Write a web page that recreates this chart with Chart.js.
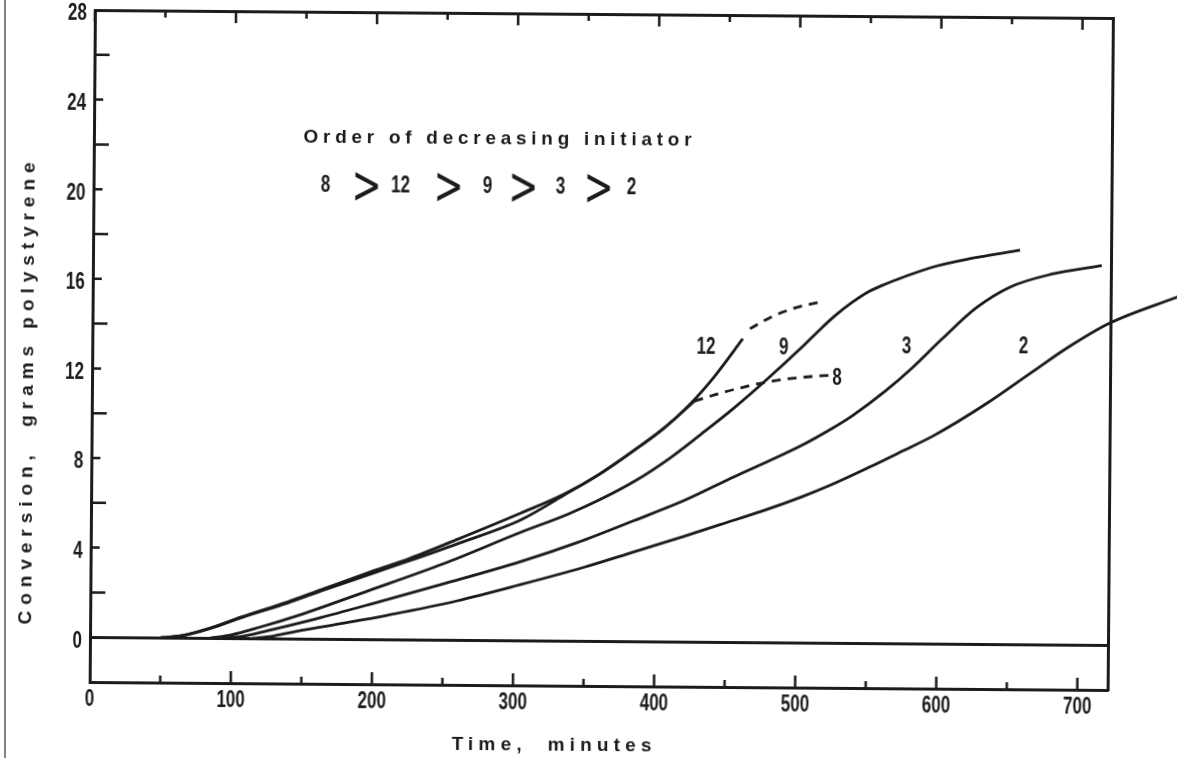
<!DOCTYPE html>
<html>
<head>
<meta charset="utf-8">
<script src="https://cdn.jsdelivr.net/npm/chart.js@4.4.1/dist/chart.umd.min.js"></script>
<style>
  html, body { margin: 0; padding: 0; background: #fff; overflow: hidden; }
  #wrap { position: relative; width: 1177px; height: 758px; }
  #edge { position: absolute; left: 4px; top: 0; width: 2px; height: 758px; background: #7f868f; }
  #c { position: absolute; left: 0; top: 0; transform: rotate(0.45deg); transform-origin: 90px 637px; }
</style>
</head>
<body>
<div id="wrap"><div id="edge"></div><canvas id="c" width="1177" height="758"></canvas></div>
<script>
// Conversion (grams polystyrene) against time (minutes) for each run
const run12Time  = [50, 65, 85, 107, 140, 166, 200, 225, 260, 305, 335, 360, 385, 405, 423, 441, 461];
const run12Grams = [0, 0.1, 0.45, 0.95, 1.65, 2.26, 3.05, 3.6, 4.5, 5.7, 6.55, 7.45, 8.55, 9.5, 10.55, 11.85, 13.55];
const run12ExtTime  = [466, 480, 498, 518];
const run12ExtGrams = [14.0, 14.5, 14.95, 15.25];

const run8Time  = [50, 65, 85, 107, 140, 166, 200, 225, 260, 305, 335, 360, 385, 405, 427];
const run8Grams = [0, 0.1, 0.43, 0.92, 1.6, 2.2, 2.95, 3.5, 4.3, 5.4, 6.5, 7.45, 8.55, 9.5, 10.75];
const run8ExtTime  = [427, 442, 456, 480, 503, 522];
const run8ExtGrams = [10.75, 11.05, 11.3, 11.65, 11.85, 11.95];

const run9Time  = [85, 100, 120, 150, 197, 250, 305, 338, 360, 385, 410, 432, 455, 477, 503, 515, 526, 538, 550, 562, 574, 597, 621, 657];
const run9Grams = [0, 0.15, 0.5, 1.1, 2.17, 3.4, 4.84, 5.66, 6.3, 7.15, 8.2, 9.28, 10.45, 11.67, 13.2, 13.95, 14.6, 15.2, 15.7, 16.05, 16.35, 16.85, 17.2, 17.6];

const run3Time  = [95, 110, 130, 160, 199, 250, 305, 345, 385, 420, 456, 480, 503, 524, 539, 562, 581, 602, 626, 650, 680, 715];
const run3Grams = [0, 0.12, 0.42, 0.9, 1.58, 2.5, 3.53, 4.4, 5.4, 6.3, 7.4, 8.1, 8.8, 9.55, 10.15, 11.25, 12.3, 13.6, 15.0, 15.95, 16.55, 16.95];

const run2Time  = [115, 130, 150, 180, 211, 260, 305, 350, 385, 420, 446, 475, 503, 524, 551, 575, 597, 633, 668, 692, 720, 770];
const run2Grams = [0, 0.12, 0.38, 0.72, 1.09, 1.75, 2.5, 3.3, 4.0, 4.7, 5.25, 5.85, 6.5, 7.05, 7.85, 8.6, 9.3, 10.7, 12.25, 13.3, 14.35, 15.6];

// Axis ranges and tick labels
const timeMin = 0, timeMax = 721.5;
const gramsMin = -2, gramsMax = 28;
const timeTicks = [0, 100, 200, 300, 400, 500, 600, 700];
const gramsTicks = [0, 4, 8, 12, 16, 20, 24, 28];

// Curve labels placed beside each run
const curveLabels = ['12', '9', '8', '3', '2'];
const curveLabelTime = [435, 490, 528, 577, 660];
const curveLabelGrams = [13.17, 13.16, 11.83, 13.23, 13.28];

// Note on initiator order
const orderHeading = 'Order of decreasing initiator';
const orderRuns = ['8', '12', '9', '3', '2'];
const orderRunTime = [164.4, 217.6, 279.2, 331, 381.3];
const orderSignTime = [193.5, 251.6, 304.7, 357.9];

const INK = '#1b1b1b';
const FONT = "'Liberation Sans', Arimo, 'DejaVu Sans', sans-serif";
const DIGIT_SQUEEZE = 0.74;

// Squeeze/stretch applied to lettering (narrow numbers, tall chevrons)
const squeeze = { x: 1, y: 1 };
function installSqueeze(ctx) {
  if (ctx._squeezed) return;
  const fill = ctx.fillText.bind(ctx);
  ctx.fillText = function (text, x, y, maxWidth) {
    if (squeeze.x === 1 && squeeze.y === 1) return fill(text, x, y, maxWidth);
    this.save();
    this.translate(x, y);
    this.scale(squeeze.x, squeeze.y);
    fill(text, 0, 0, maxWidth);
    this.restore();
  };
  ctx._squeezed = true;
}

const pairs = (t, g) => t.map((v, i) => ({ x: v, y: g[i] }));
const curve = (label, t, g, dashed, clip) => ({
  label,
  data: pairs(t, g),
  borderColor: INK,
  borderWidth: 2.8,
  borderDash: dashed ? [9, 7] : [],
  pointRadius: 0,
  fill: false,
  cubicInterpolationMode: 'monotone',
  clip: clip === undefined ? 0 : clip
});

// Axis titles are letter-spaced to a set length; tick numbers are squeezed
const titleFit = {
  x: { width: 200, shift: [-44, 0] },
  y: { width: 462, shift: [0, 45] }
};
const lettering = {
  id: 'lettering',
  beforeDraw(chart) {
    installSqueeze(chart.ctx);
    Object.keys(titleFit).forEach(id => {
      const scale = chart.scales[id];
      if (!scale || scale._lettered) return;
      const drawTitle = scale.drawTitle.bind(scale);
      scale.drawTitle = function () {
        const ctx = this.ctx;
        const t = this.options.title;
        const fit = titleFit[id];
        ctx.save();
        ctx.font = Chart.helpers.toFont(t.font).string;
        ctx.letterSpacing = '0px';
        const w = ctx.measureText(t.text).width;
        ctx.letterSpacing = Math.max(0, (fit.width - w) / (t.text.length - 1)) + 'px';
        ctx.translate(fit.shift[0], fit.shift[1]);
        drawTitle();
        ctx.restore();
      };
      const drawLabels = scale.drawLabels.bind(scale);
      scale.drawLabels = function (area) {
        squeeze.x = DIGIT_SQUEEZE;
        drawLabels(area);
        squeeze.x = 1;
      };
      scale._lettered = true;
    });
  }
};

// Inward tick marks on the frame
const frameTicks = {
  id: 'frameTicks',
  afterDatasetsDraw(chart) {
    const { ctx, chartArea: a, scales: { x, y } } = chart;
    ctx.save();
    ctx.strokeStyle = INK;
    ctx.lineWidth = 2.5;
    ctx.beginPath();
    for (let v = timeTicks[0]; v <= timeTicks[timeTicks.length - 1]; v += 50) {
      const px = x.getPixelForValue(v);
      const len = timeTicks.includes(v) ? 12 : 7;
      if (v > timeMin) {
        ctx.moveTo(px, a.bottom); ctx.lineTo(px, a.bottom - len);
      }
      ctx.moveTo(px, a.top); ctx.lineTo(px, a.top + len);
    }
    for (let v = 2; v < gramsMax; v += 2) {
      const py = y.getPixelForValue(v);
      const len = gramsTicks.includes(v) ? 9 : 15;
      ctx.moveTo(a.left, py); ctx.lineTo(a.left + len, py);
    }
    ctx.stroke();
    ctx.restore();
  }
};

// Curve numbers and the initiator-order note
const notes = {
  id: 'notes',
  afterDatasetsDraw(chart) {
    const { ctx, scales: { x, y } } = chart;
    ctx.save();
    ctx.fillStyle = INK;
    ctx.textBaseline = 'middle';
    ctx.textAlign = 'center';

    squeeze.x = DIGIT_SQUEEZE;
    ctx.font = `bold 23px ${FONT}`;
    curveLabels.forEach((s, i) => {
      ctx.fillText(s, x.getPixelForValue(curveLabelTime[i]), y.getPixelForValue(curveLabelGrams[i]));
    });
    orderRuns.forEach((s, i) => {
      ctx.fillText(s, x.getPixelForValue(orderRunTime[i]), y.getPixelForValue(20.23));
    });
    squeeze.x = 1.2;
    squeeze.y = 1.8;
    ctx.font = "normal 30px 'DejaVu Sans', sans-serif";
    orderSignTime.forEach(t => {
      ctx.fillText('>', x.getPixelForValue(t), y.getPixelForValue(20.1));
    });
    squeeze.x = 1;
    squeeze.y = 1;

    ctx.textAlign = 'left';
    ctx.font = `bold 19px ${FONT}`;
    ctx.letterSpacing = '0px';
    const hw = ctx.measureText(orderHeading).width;
    ctx.letterSpacing = Math.max(0, (388 - hw) / (orderHeading.length - 1)) + 'px';
    ctx.fillText(orderHeading, x.getPixelForValue(148.5), y.getPixelForValue(22.4));
    ctx.letterSpacing = '0px';
    ctx.restore();
  }
};

const tickFont = { family: FONT, size: 23, weight: 'bold' };
const titleFont = { family: FONT, size: 19, weight: 'bold', lineHeight: 1 };

new Chart(document.getElementById('c'), {
  type: 'line',
  data: {
    datasets: [
      curve('12', run12Time, run12Grams, false),
      curve('12 (continued)', run12ExtTime, run12ExtGrams, true),
      curve('8', run8Time, run8Grams, false),
      curve('8 (continued)', run8ExtTime, run8ExtGrams, true),
      curve('9', run9Time, run9Grams, false),
      curve('3', run3Time, run3Grams, false),
      curve('2', run2Time, run2Grams, false, false)
    ]
  },
  options: {
    responsive: false,
    devicePixelRatio: 1,
    animation: false,
    layout: { padding: { left: 0, right: 69, top: 10, bottom: 0 } },
    plugins: { legend: { display: false }, tooltip: { enabled: false } },
    scales: {
      x: {
        type: 'linear', position: 'bottom', min: timeMin, max: timeMax,
        afterFit(s) { s.height = 76; s.paddingLeft = 0; s.paddingRight = 0; },
        grid: { display: false, drawTicks: false },
        border: { display: true, color: INK, width: 3 },
        ticks: {
          stepSize: 100, includeBounds: false, autoSkip: false, maxRotation: 0, padding: 4,
          color: INK, font: tickFont,
          callback: v => timeTicks.includes(v) ? String(v) : ''
        },
        title: { display: true, text: 'Time,  minutes', color: INK, font: titleFont, padding: { top: 0, bottom: 7 } }
      },
      xTop: {
        type: 'linear', position: 'top', min: timeMin, max: timeMax,
        afterFit(s) { s.height = 0; s.paddingLeft = 0; s.paddingRight = 0; },
        grid: { display: false, drawTicks: false },
        border: { display: true, color: INK, width: 3 },
        ticks: { display: false }
      },
      y: {
        type: 'linear', position: 'left', min: gramsMin, max: gramsMax,
        afterFit(s) { s.width = 90; s.paddingTop = 0; s.paddingBottom = 0; },
        grid: {
          drawTicks: false,
          color: c => (c.tick && c.tick.value === 0) ? INK : 'rgba(0,0,0,0)',
          lineWidth: 3
        },
        border: { display: true, color: INK, width: 3 },
        ticks: {
          stepSize: 2, autoSkip: false, padding: 8, labelOffset: 4, color: INK, font: tickFont,
          callback: v => gramsTicks.includes(v) ? String(v) : ''
        },
        title: { display: true, text: 'Conversion,  grams polystyrene', color: INK, font: titleFont, padding: { top: 16, bottom: 0 } }
      },
      yRight: {
        type: 'linear', position: 'right', min: gramsMin, max: gramsMax,
        afterFit(s) { s.width = 0; s.paddingTop = 0; s.paddingBottom = 0; },
        grid: { display: false, drawTicks: false },
        border: { display: true, color: INK, width: 3 },
        ticks: { display: false }
      }
    }
  },
  plugins: [lettering, frameTicks, notes]
});
</script>
</body>
</html>
